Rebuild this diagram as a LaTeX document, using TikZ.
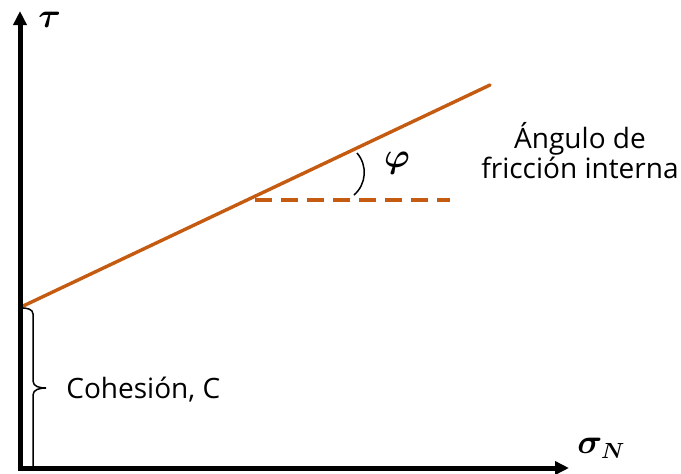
\documentclass[tikz,border=0pt]{standalone}
\usepackage{amsmath}
\usepackage{fontspec}
\setmainfont{Open Sans}
\usepackage{tikz}
\usetikzlibrary{arrows.meta}
\definecolor{ink}{HTML}{000000}
\definecolor{envelope}{HTML}{C55A11}

\begin{document}
\begin{tikzpicture}[
  x=0.5pt,y=-0.5pt,
  axis/.style={line width=2.5pt,draw=ink,line join=miter,
    {Triangle[length=7pt,width=6.5pt]}-{Triangle[length=7pt,width=6.5pt]}},
  envline/.style={line width=1.7pt,draw=envelope},
  envdash/.style={envline,dash pattern=on 8.5pt off 4.5pt},
  thinline/.style={line width=0.75pt,draw=ink},
  symbol/.style={inner sep=0pt,font=\fontsize{16}{19}\selectfont},
  caption/.style={inner sep=0pt,font=\fontsize{14}{15}\selectfont,align=center}
]
  \useasboundingbox (0,0) rectangle (681,473);

  \coordinate (origin) at (20,468);
  \coordinate (ytip) at (20,11);
  \coordinate (xtip) at (569,468);
  \coordinate (cohesion) at (21,307);
  \coordinate (envend) at (490,85);
  \coordinate (dashstart) at (255,200);
  \coordinate (dashend) at (450,200);
  \coordinate (arctop) at (357,153);
  \coordinate (arcbot) at (354,195);
  \coordinate (bracetip) at (46,388);

  % Mohr-Coulomb envelope
  \draw[envline,line cap=round] (cohesion) -- (envend);
  \draw[envdash] (dashstart) -- (dashend);
  \draw[thinline] (arctop) to[bend left=45] (arcbot);

  % cohesion intercept
  \draw[thinline] (22,308) to[out=0,in=90] (33,314) -- (33,381)
    to[out=-90,in=180] (bracetip) to[out=180,in=90] (33,395) -- (33,468);

  \draw[axis] (ytip) -- (origin) -- (xtip);

  \node[symbol,anchor=base west] (tau) at (38,27) {$\boldsymbol{\tau}$};
  \node[symbol,anchor=base west] (sigma) at (577,453) {$\boldsymbol{\sigma_N}$};
  \node[symbol] (phi) at (397,163) {$\boldsymbol{\varphi}$};
  \node[caption,anchor=base west] (cohlabel) at (66,398) {Cohesión, C};
  \node[caption] (philabel) at (580,150.5) {Ángulo de\\fricción interna};
\end{tikzpicture}
\end{document}
